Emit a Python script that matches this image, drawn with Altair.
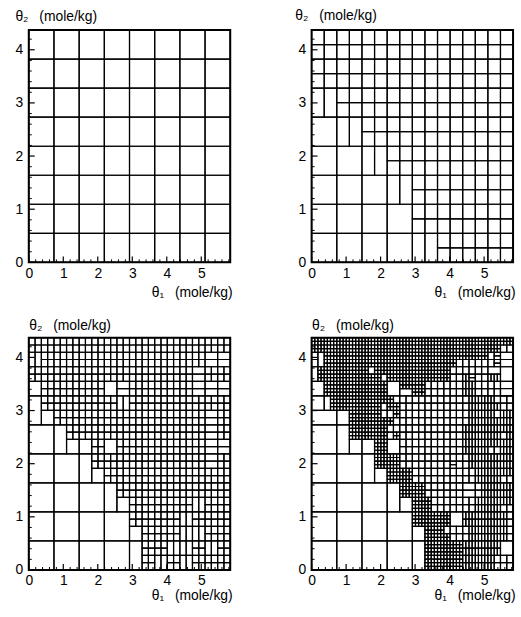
import altair as alt
import pandas as pd

# ---------------- data ----------------
X_MAX = 5.84          # theta1 range (mole/kg)
Y_MAX = 4.37          # theta2 range (mole/kg)
N0 = 8                # coarse cells per axis

X_TICKS = [0, 1, 2, 3, 4, 5]
Y_TICKS = [0, 1, 2, 3, 4]
X_MINOR = [0.2, 0.4, 0.6, 0.8, 1.2, 1.4, 1.6, 1.8, 2.2, 2.4, 2.6, 2.8, 3.2, 3.4,
           3.6, 3.8, 4.2, 4.4, 4.6, 4.8, 5.2, 5.4, 5.6, 5.8]
Y_MINOR = [0.2, 0.4, 0.6, 0.8, 1.2, 1.4, 1.6, 1.8, 2.2, 2.4, 2.6, 2.8, 3.2, 3.4,
           3.6, 3.8, 4.2]

X_TITLE = "θ₁\u2002 (mole/kg)"
Y_TITLE = "θ₂\u2002 (mole/kg)"

# refinement codes -> (x level, y level)
CODES = {"0": (0, 0), "1": (1, 1), "2": (2, 2), "3": (3, 3),
         "a": (1, 0), "b": (0, 1), "c": (2, 1), "d": (1, 2),
         "e": (3, 2), "f": (2, 3)}

# maps, top row first
MESH_1 = ["00000000"] * 8

MESH_2 = ["11111111",
          "11111111",
          "a1111111",
          "0a111111",
          "00a11111",
          "000a1111",
          "00001111",
          "0000a111"]

MESH_3 = ["22" "22" "22" "22" "22" "22" "22" "22",
          "c2" "22" "22" "22" "22" "22" "22" "dd",
          "22" "22" "22" "22" "22" "22" "2d" "22",
          "12" "22" "22" "1d" "22" "22" "2d" "dd",
          "a2" "22" "22" "2c" "22" "22" "22" "22",
          "a1" "22" "22" "22" "22" "22" "22" "d2",
          "00" "a2" "22" "22" "22" "22" "22" "d2",
          "00" "a1" "12" "12" "22" "22" "22" "dd",
          "00" "00" "a2" "22" "22" "22" "22" "d2",
          "00" "00" "a1" "22" "22" "22" "22" "22",
          "00" "00" "00" "a2" "22" "22" "22" "22",
          "00" "00" "00" "a1" "22" "22" "2c" "22",
          "00" "00" "00" "00" "22" "22" "c2" "22",
          "00" "00" "00" "00" "12" "22" "cc" "22",
          "00" "00" "00" "00" "a2" "2c" "c2" "c2",
          "00" "00" "00" "00" "a2" "c2" "c2" "22"]

MESH_4 = ["3333" "3333" "3333" "3333" "3333" "3333" "3333" "3333",
          "3333" "3333" "3333" "3333" "3333" "3333" "3333" "3322",
          "2c33" "3333" "3333" "3333" "3333" "3333" "3333" "2fdd",
          "2c33" "3333" "3333" "3333" "3333" "3332" "2222" "2fdd",
          "c333" "3333" "3233" "3333" "3333" "3322" "2222" "dd11",
          "c333" "3333" "3332" "3333" "3333" "3322" "ef22" "ee11",
          "1133" "3333" "3333" "1133" "3322" "2222" "ee22" "2211",
          "1133" "3333" "3333" "11dd" "3322" "2222" "ee22" "22dd",
          "11c3" "3333" "3333" "3222" "2222" "2222" "2eee" "e222",
          "11c3" "3333" "3332" "3322" "2222" "2222" "2eee" "ee22",
          "bbbb" "1133" "3332" "2322" "2222" "2222" "2eee" "e2ee",
          "bbbb" "1133" "3333" "3222" "2222" "2222" "2eee" "eeee",
          "0000" "aa33" "3333" "2222" "2222" "2222" "eeee" "eeee",
          "0000" "aa33" "3333" "2322" "2222" "2222" "eeee" "ee2e",
          "0000" "aa11" "1133" "1122" "2222" "2222" "eeee" "eeee",
          "0000" "aa11" "1133" "1122" "2222" "2222" "eeee" "22ee",
          "0000" "0000" "aa33" "3322" "2222" "2222" "2eee" "eeee",
          "0000" "0000" "aa33" "3322" "2222" "22f2" "2eee" "eeee",
          "0000" "0000" "aa11" "3333" "2222" "2222" "22ee" "eeee",
          "0000" "0000" "aa11" "3333" "2222" "2222" "22ee" "ee22",
          "0000" "0000" "0000" "aa33" "3322" "2222" "dd2e" "eeee",
          "0000" "0000" "0000" "aa33" "3322" "2222" "dd2e" "eeee",
          "0000" "0000" "0000" "aa11" "3332" "2222" "22ee" "eeee",
          "0000" "0000" "0000" "aa11" "3332" "2222" "22ee" "ee22",
          "0000" "0000" "0000" "0000" "3333" "3311" "eeee" "eee2",
          "0000" "0000" "0000" "0000" "3333" "3311" "eeee" "eee2",
          "0000" "0000" "0000" "0000" "1133" "3222" "2eee" "eee2",
          "0000" "0000" "0000" "0000" "1133" "3322" "2eee" "eee2",
          "0000" "0000" "0000" "0000" "aa33" "3333" "eeee" "ee11",
          "0000" "0000" "0000" "0000" "aa33" "3333" "eeee" "ee11",
          "0000" "0000" "0000" "0000" "aa33" "3333" "eeee" "e222",
          "0000" "0000" "0000" "0000" "aa33" "3333" "eeee" "e222"]

# ---------------- layout ----------------
W, H = 203, 234
FONT = "Liberation Sans"


def cells(rows):
    R = len(rows)
    found = set()
    for i, row in enumerate(rows):
        row = (row + row[-1] * R)[:R]
        yb = R - 1 - i
        for j, ch in enumerate(row):
            lx, ly = CODES[ch]
            nx, ny = N0 * 2 ** lx, N0 * 2 ** ly
            xs = [j * nx // R] if nx <= R else [j * (nx // R) + m for m in range(nx // R)]
            ys = [yb * ny // R] if ny <= R else [yb * (ny // R) + m for m in range(ny // R)]
            for ix in xs:
                for iy in ys:
                    found.add((lx, ix, ly, iy))
    recs = []
    for lx, ix, ly, iy in sorted(found):
        dx = X_MAX / (N0 * 2 ** lx)
        dy = Y_MAX / (N0 * 2 ** ly)
        recs.append({"x": ix * dx, "x2": (ix + 1) * dx, "y": iy * dy, "y2": (iy + 1) * dy})
    return pd.DataFrame(recs)


def panel(rows, title_dx, title_dy, xtitle_dy):
    xs = alt.Scale(domain=[0, X_MAX], nice=False, zero=False)
    ys = alt.Scale(domain=[0, Y_MAX], nice=False, zero=False)
    xaxis = alt.Axis(values=X_TICKS, title=X_TITLE, ticks=False, tickSize=0, grid=False,
                     domain=False, labelFontSize=14, labelPadding=4, labelFont=FONT,
                     labelColor="black", labelFlush=False, labelOverlap=False,
                     titleFont=FONT, titleFontSize=14, titleFontWeight="normal",
                     titleColor="black", titleAnchor="end", titleAlign="right",
                     titleX=W + 2, titleY=xtitle_dy, titleBaseline="middle")
    yaxis = alt.Axis(values=Y_TICKS, title=Y_TITLE, ticks=False, tickSize=0, grid=False,
                     domain=False, labelFontSize=14, labelPadding=6, labelFont=FONT,
                     labelColor="black", labelFlush=False, labelOverlap=False,
                     titleFont=FONT, titleFontSize=14, titleFontWeight="normal",
                     titleColor="black", titleAngle=0, titleAlign="left",
                     titleBaseline="middle", titleX=title_dx, titleY=title_dy)
    mesh = alt.Chart(cells(rows)).mark_rect(
        fillOpacity=0, stroke="black", strokeWidth=1.2
    ).encode(
        x=alt.X("x:Q", scale=xs, axis=xaxis),
        x2="x2:Q",
        y=alt.Y("y:Q", scale=ys, axis=yaxis),
        y2="y2:Q",
    )
    xmaj = alt.Chart(pd.DataFrame({"x": X_TICKS})).mark_rule(color="black", strokeWidth=1.2).encode(
        x=alt.X("x:Q", scale=xs, axis=xaxis), y=alt.value(H), y2=alt.value(H - 6))
    xmin = alt.Chart(pd.DataFrame({"x": X_MINOR})).mark_rule(color="black", strokeWidth=1).encode(
        x=alt.X("x:Q", scale=xs, axis=xaxis), y=alt.value(H), y2=alt.value(H - 3))
    ymaj = alt.Chart(pd.DataFrame({"y": Y_TICKS})).mark_rule(color="black", strokeWidth=1.2).encode(
        y=alt.Y("y:Q", scale=ys, axis=yaxis), x=alt.value(0), x2=alt.value(6))
    ymin = alt.Chart(pd.DataFrame({"y": Y_MINOR})).mark_rule(color="black", strokeWidth=1).encode(
        y=alt.Y("y:Q", scale=ys, axis=yaxis), x=alt.value(0), x2=alt.value(3))
    return alt.layer(mesh, xmaj, xmin, ymaj, ymin).properties(width=W, height=H)


p1 = panel(MESH_1, -14, -14, 30)
p2 = panel(MESH_2, -17, -15, 30)
p3 = panel(MESH_3, 0, -12, 26)
p4 = panel(MESH_4, 0, -12, 26)

chart = alt.concat(p1, p2, p3, p4, columns=2).properties(
    spacing={"row": 76, "column": 82},
    bounds="flush",
    padding={"left": 14, "top": 5, "right": 5, "bottom": 5},
    background="white",
).configure_view(stroke="black", strokeWidth=2)

chart.save("out.html", embed_options={"renderer": "svg", "actions": False})
